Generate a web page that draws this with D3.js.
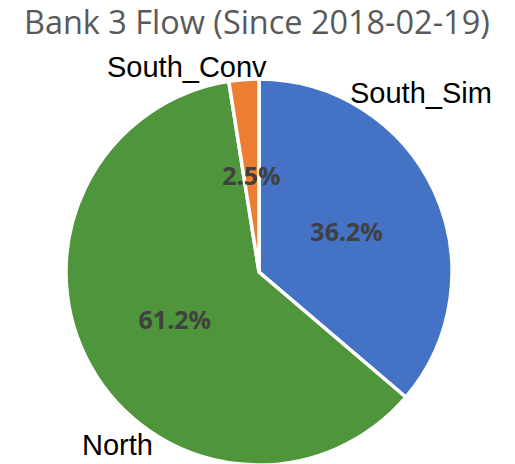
<!DOCTYPE html>
<html>
<head>
<meta charset="utf-8">
<script src="https://cdn.jsdelivr.net/npm/d3@7"></script>
<style>
  html, body { margin: 0; padding: 0; background: #fff; }
  svg { display: block; }
</style>
</head>
<body>
<svg id="chart" width="515" height="464"></svg>
<script>
// Flow shares by branch
const categories = ["South_Sim", "North", "South_Conv"];
const shares = [36.2, 61.2, 2.5];
const colors = ["#4472C4", "#4E953B", "#ED7D31"];
const titleText = "Bank 3 Flow (Since 2018-02-19)";

const W = 515, H = 464;
const cx = 259, cy = 272, R = 193;

// Category name placement (text start x, baseline y)
const nameAnchors = {
  "South_Sim": [350, 103],
  "North": [82, 455],
  "South_Conv": [107, 77]
};

const svg = d3.select("#chart");

// Title, fitted to its span
const title = svg.append("text")
  .attr("x", 24)
  .attr("y", 34)
  .attr("fill", "#595959")
  .style("font-family", "'Open Sans', sans-serif")
  .style("font-size", "28px")
  .text(titleText);
const tw = title.node().getComputedTextLength();
title.style("font-size", (28 * 466 / tw).toFixed(2) + "px");

const data = categories.map((c, i) => ({ name: c, value: shares[i], color: colors[i] }));

const pie = d3.pie().sort(null).value(d => d.value);
const arc = d3.arc().innerRadius(0).outerRadius(R);
const arcs = pie(data);

const g = svg.append("g").attr("transform", `translate(${cx},${cy})`);

g.selectAll("path.slice")
  .data(arcs)
  .join("path")
  .attr("class", "slice")
  .attr("d", arc)
  .attr("fill", d => d.data.color)
  .attr("stroke", "#fff")
  .attr("stroke-width", 3.5)
  .attr("stroke-linejoin", "miter");

// Percentage labels at the slice centroids
g.selectAll("text.pct")
  .data(arcs)
  .join("text")
  .attr("class", "pct")
  .attr("transform", d => `translate(${arc.centroid(d)})`)
  .attr("text-anchor", "middle")
  .attr("dy", "0.38em")
  .attr("fill", "#404040")
  .style("font-family", "'Open Sans', sans-serif")
  .style("font-weight", "bold")
  .style("font-size", "25px")
  .text(d => d.data.value.toFixed(1) + "%");

// Category names
svg.selectAll("text.name")
  .data(data)
  .join("text")
  .attr("class", "name")
  .attr("x", d => nameAnchors[d.name][0])
  .attr("y", d => nameAnchors[d.name][1])
  .attr("fill", "#000")
  .style("font-family", "'Liberation Sans', Arial, sans-serif")
  .style("font-size", "29px")
  .text(d => d.name);
</script>
</body>
</html>
